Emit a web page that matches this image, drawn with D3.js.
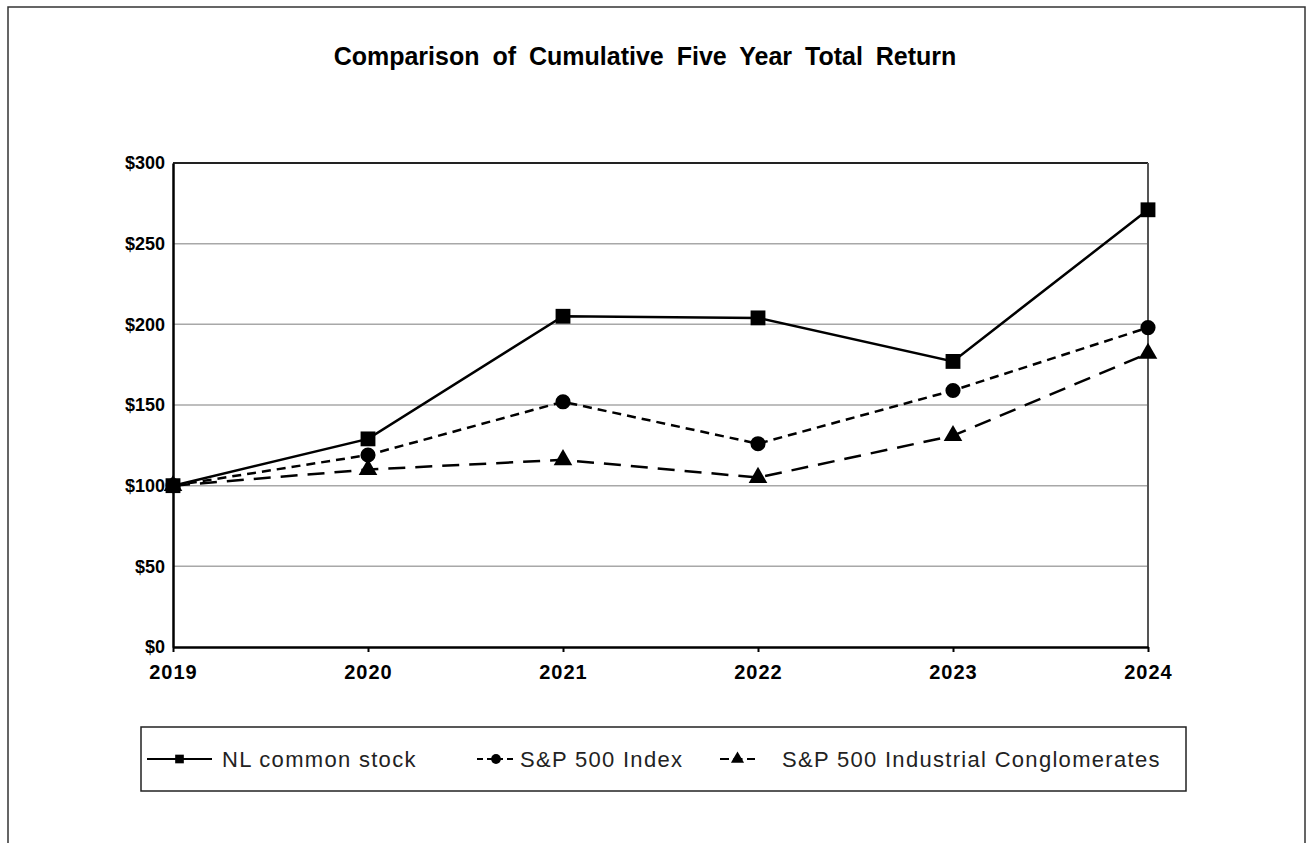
<!DOCTYPE html>
<html>
<head>
<meta charset="utf-8">
<script src="https://cdn.jsdelivr.net/npm/d3@7"></script>
<style>
	body { margin:0; background:#fff; }
	#chart { width:1309px; height:843px; }
	text { font-family:"Liberation Sans", Arial, sans-serif; }
</style>
</head>
<body>
<div id="chart"><svg></svg></div>
<script>
var years = ["2019", "2020", "2021", "2022", "2023", "2024"];
var nlStock = [100, 129, 205, 204, 177, 271];
var sp500 = [100, 119, 152, 126, 159, 198];
var indConglo = [100, 110, 116, 105, 131, 182];
var yTicks = [0, 50, 100, 150, 200, 250, 300];
var seriesNames = ["NL common stock", "S&P 500 Index", "S&P 500 Industrial Conglomerates"];

var series = [
	{name: seriesNames[0], values: nlStock, dash: null, lgDash: null, shape: d3.symbolSquare, size: 220},
	{name: seriesNames[1], values: sp500, dash: "9,6", lgDash: "6,4", shape: d3.symbolCircle, size: 180},
	{name: seriesNames[2], values: indConglo, dash: "17,10", lgDash: "9,4.5", shape: d3.symbolTriangle, size: 150}
];

var svg = d3.select("#chart > svg").attr("width", 1309).attr("height", 843);

// outer frame, bottom edge runs off the page
svg.append("rect")
	.attr("x", 8).attr("y", 7).attr("width", 1297).attr("height", 860)
	.style("fill", "none").style("stroke", "#333").style("stroke-width", 1.5);

svg.append("text")
	.attr("x", 645).attr("y", 65)
	.attr("text-anchor", "middle")
	.style("font-size", "25px").style("font-weight", "bold").style("word-spacing", "6px")
	.text("Comparison of Cumulative Five Year Total Return");

var mg = {top: 163, left: 173, right: 161, bottom: 196};
var w = 1309 - mg.left - mg.right,
	h = 843 - mg.top - mg.bottom;
var g = svg.append("g").attr("transform", "translate(" + mg.left + "," + mg.top + ")");

var x = d3.scalePoint().domain(years).range([0, w]);
var y = d3.scaleLinear().domain([0, 300]).range([h, 0]);

// grid
g.selectAll("line.grid").data(yTicks.filter(function(d){ return d > 0 && d < 300; }))
	.enter().append("line").attr("class", "grid")
	.attr("x1", 0).attr("x2", w)
	.attr("y1", function(d){ return y(d); }).attr("y2", function(d){ return y(d); })
	.style("stroke", "#a8a8a8").style("stroke-width", 1.5);

// frame of plot area: top + right
g.append("line").attr("x1", 0).attr("x2", w).attr("y1", 0).attr("y2", 0)
	.style("stroke", "#222").style("stroke-width", 2);
g.append("line").attr("x1", w).attr("x2", w).attr("y1", 0).attr("y2", h)
	.style("stroke", "#555").style("stroke-width", 2);

// y axis
var yAxis = g.append("g").call(d3.axisLeft(y).tickValues(yTicks).tickSize(0).tickPadding(8)
	.tickFormat(function(d){ return "$" + d; }));
yAxis.select(".domain").style("stroke", "#000").style("stroke-width", 2.5);
yAxis.selectAll("text").style("font-size", "18px").style("font-weight", "bold")
	.style("font-family", "'Liberation Sans', Arial, sans-serif").attr("fill", "#000");

// x axis
var xAxis = g.append("g").attr("transform", "translate(0," + h + ")")
	.call(d3.axisBottom(x).tickSizeInner(5).tickSizeOuter(0).tickPadding(13));
xAxis.select(".domain").style("stroke", "#000").style("stroke-width", 2.5);
xAxis.selectAll(".tick line").style("stroke", "#000").style("stroke-width", 2);
xAxis.selectAll("text").style("font-size", "20px").style("font-weight", "bold")
	.style("letter-spacing", "1px")
	.style("font-family", "'Liberation Sans', Arial, sans-serif").attr("fill", "#000");

var line = d3.line()
	.x(function(d, i){ return x(years[i]); })
	.y(function(d){ return y(d); });

series.forEach(function(s){
	g.append("path").datum(s.values)
		.attr("d", line)
		.style("fill", "none").style("stroke", "#000").style("stroke-width", 2.5)
		.style("stroke-dasharray", s.dash);
	g.selectAll(null).data(s.values).enter().append("path")
		.attr("transform", function(d, i){ return "translate(" + x(years[i]) + "," + y(d) + ")"; })
		.attr("d", d3.symbol().type(s.shape).size(s.size))
		.style("fill", "#000");
});

// legend
var lg = svg.append("g").attr("transform", "translate(141,727)");
lg.append("rect").attr("width", 1045).attr("height", 64)
	.style("fill", "#fff").style("stroke", "#222").style("stroke-width", 1.5);

var lgPos = [
	{x0: 6, x1: 71, text: 81},
	{x0: 336, x1: 374, text: 379},
	{x0: 579, x1: 614, text: 641}
];
series.forEach(function(s, i){
	var p = lgPos[i], cy = 32;
	lg.append("line").attr("x1", p.x0).attr("x2", p.x1).attr("y1", cy).attr("y2", cy)
		.style("stroke", "#000").style("stroke-width", 2)
		.style("stroke-dasharray", s.lgDash);
	lg.append("path")
		.attr("transform", "translate(" + (p.x0 + p.x1) / 2 + "," + cy + ")")
		.attr("d", d3.symbol().type(s.shape).size(75))
		.style("fill", "#000");
	lg.append("text").attr("x", p.text).attr("y", cy + 8)
		.style("font-size", "22px").style("letter-spacing", "1.3px").style("fill", "#222")
		.text(s.name);
});
</script>
</body>
</html>
